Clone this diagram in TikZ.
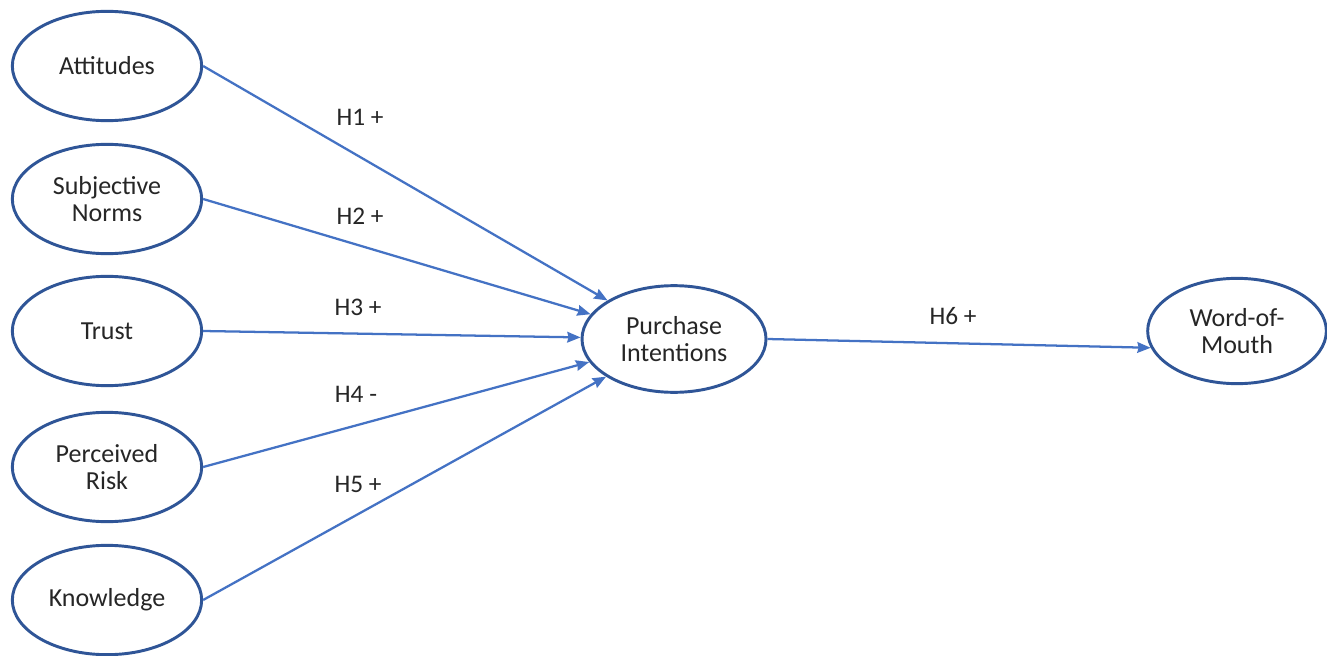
\documentclass[tikz,border=0pt]{standalone}
\usepackage{fontspec}
\setmainfont{Carlito}
\usetikzlibrary{shapes.geometric,arrows.meta}
\definecolor{edgeblue}{HTML}{2F5597}
\definecolor{arrowblue}{HTML}{4472C4}
\begin{document}
\begin{tikzpicture}[x=0.75pt,y=-0.75pt,
  construct/.style={ellipse,draw=edgeblue,line width=2.2pt,fill=white,inner sep=0pt,
    minimum width=142pt,minimum height=82pt,align=center,font=\fontsize{19.5}{20}\selectfont,text=black!85},
  path/.style={draw=arrowblue,line width=1.7pt,-{Stealth[length=10pt,width=8pt,inset=1pt]}},
  hyp/.style={font=\fontsize{19}{20}\selectfont,text=black!85}]
\fill[white] (0,0) rectangle (1327,656);
\useasboundingbox (0,0) rectangle (1327,656);
\node[construct] (att) at (107,66) {Attitudes};
\node[construct] (sn) at (107,199) {Subjective\\Norms};
\node[construct] (tr) at (107,331) {Trust};
\node[construct] (pr) at (107,467) {Perceived\\Risk};
\node[construct] (kn) at (107,600) {Knowledge};
\node[construct,minimum width=138pt,minimum height=80pt] (pi) at (674,339) {Purchase\\Intentions};
\node[construct,minimum width=134pt,minimum height=79pt] (wom) at (1237,331) {Word-of-\\Mouth};
\draw[path] (att.east) -- (pi);
\draw[path] (sn.east) -- (pi);
\draw[path] (tr.east) -- (pi);
\draw[path] (pr.east) -- (pi);
\draw[path] (kn.east) -- (pi);
\draw[path] (pi.east) -- (wom.191);
\node[hyp] (h1) at (360,117) {H1 +};
\node[hyp] (h2) at (360,216) {H2 +};
\node[hyp] (h3) at (358,307) {H3 +};
\node[hyp] (h4) at (356,394) {H4 -};
\node[hyp] (h5) at (358,484) {H5 +};
\node[hyp] (h6) at (953,316) {H6 +};
\end{tikzpicture}
\end{document}
